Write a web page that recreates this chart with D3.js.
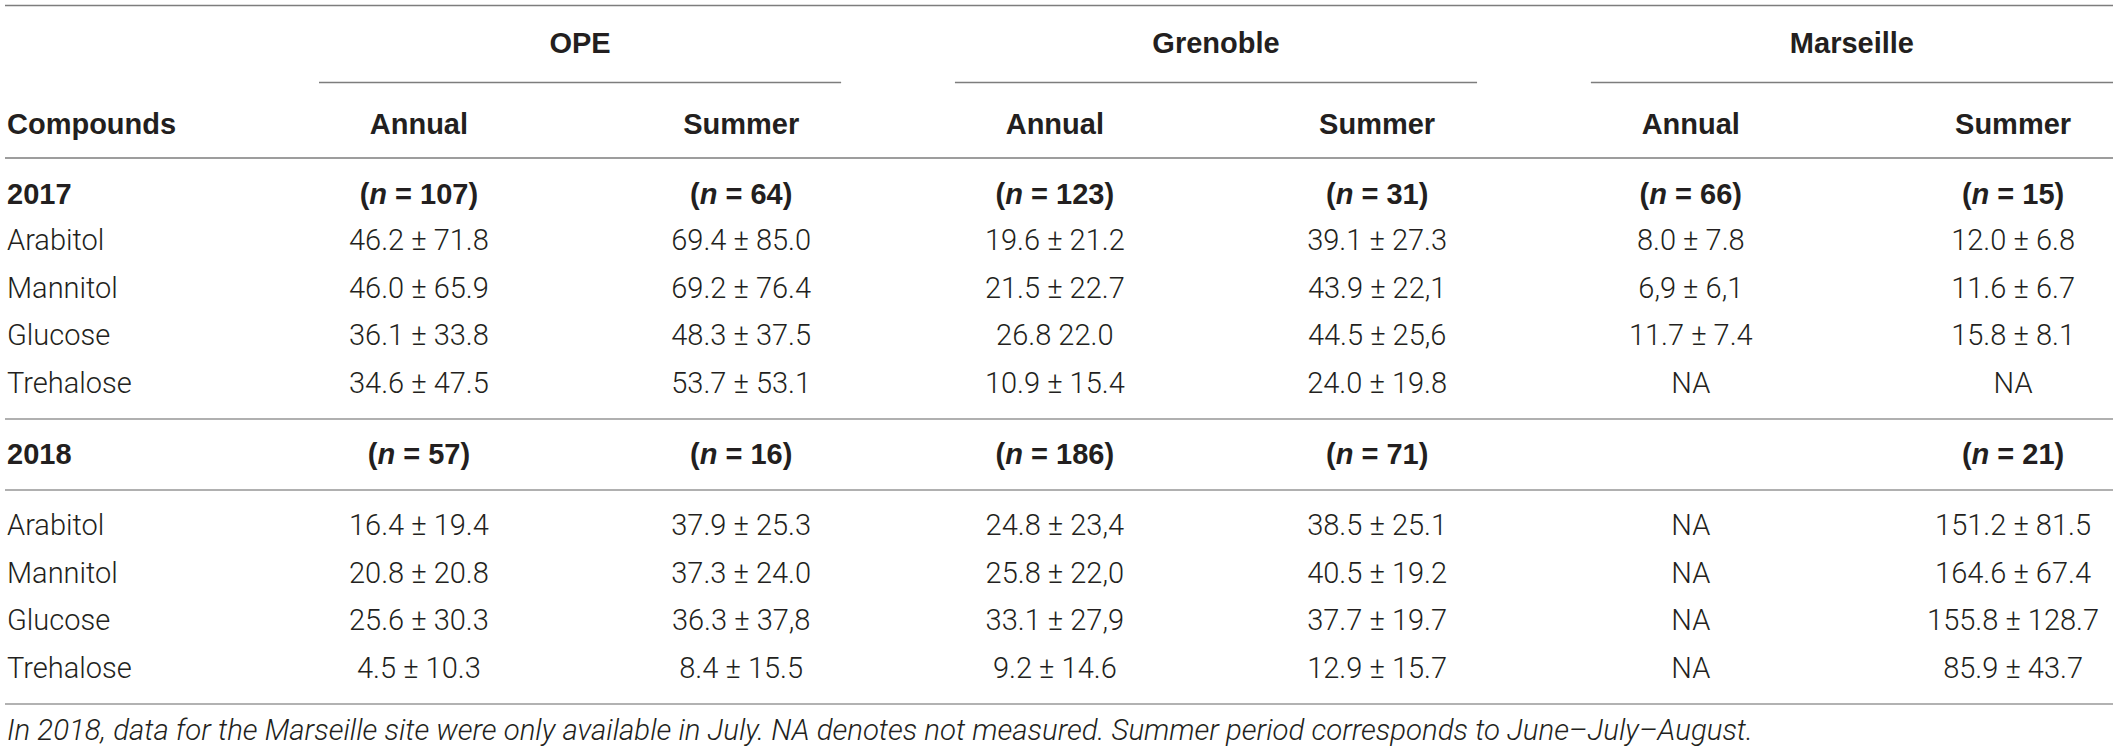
<!DOCTYPE html>
<html>
<head>
    <meta charset="utf-8">
    <style>
        body { margin: 0; background: #fff; }
        svg text { fill: #231f20; }
        .bold { font-family: "Liberation Sans", Arial, sans-serif; font-weight: bold; font-size: 29px; }
        .light { font-family: Roboto, "Liberation Sans", sans-serif; font-weight: 300; font-size: 29px; }
        .note { font-family: Roboto, "Liberation Sans", sans-serif; font-weight: 300; font-style: italic; font-size: 29.4px; }
    </style>
    <script src="https://cdnjs.cloudflare.com/ajax/libs/d3/7.8.5/d3.min.js"></script>
    <title>Table</title>
</head>
<body>
    <script>
        const width = 2118;
        const height = 752;

        const sites = ["OPE", "Grenoble", "Marseille"];
        const periods = ["Annual", "Summer"];
        const years = ["2017", "2018"];
        const compounds = ["Arabitol", "Mannitol", "Glucose", "Trehalose"];

        // sample counts per column (OPE annual, OPE summer, Grenoble ..., Marseille ...)
        const n2017 = [107, 64, 123, 31, 66, 15];
        const n2018 = [57, 16, 186, 71, null, 21];

        const values2017 = [
            ["46.2 ± 71.8", "69.4 ± 85.0", "19.6 ± 21.2", "39.1 ± 27.3", "8.0 ± 7.8", "12.0 ± 6.8"],
            ["46.0 ± 65.9", "69.2 ± 76.4", "21.5 ± 22.7", "43.9 ± 22,1", "6,9 ± 6,1", "11.6 ± 6.7"],
            ["36.1 ± 33.8", "48.3 ± 37.5", "26.8 22.0", "44.5 ± 25,6", "11.7 ± 7.4", "15.8 ± 8.1"],
            ["34.6 ± 47.5", "53.7 ± 53.1", "10.9 ± 15.4", "24.0 ± 19.8", "NA", "NA"]
        ];
        const values2018 = [
            ["16.4 ± 19.4", "37.9 ± 25.3", "24.8 ± 23,4", "38.5 ± 25.1", "NA", "151.2 ± 81.5"],
            ["20.8 ± 20.8", "37.3 ± 24.0", "25.8 ± 22,0", "40.5 ± 19.2", "NA", "164.6 ± 67.4"],
            ["25.6 ± 30.3", "36.3 ± 37,8", "33.1 ± 27,9", "37.7 ± 19.7", "NA", "155.8 ± 128.7"],
            ["4.5 ± 10.3", "8.4 ± 15.5", "9.2 ± 14.6", "12.9 ± 15.7", "NA", "85.9 ± 43.7"]
        ];

        const footnote = "In 2018, data for the Marseille site were only available in July. NA denotes not measured. Summer period corresponds to June–July–August.";

        const svg = d3.select("body").append("svg")
            .attr("width", width).attr("height", height);

        // column layout
        const left = 5, right = 2113, textLeft = 7;
        const xSite = d3.scaleBand().domain(sites).range([319, right]).paddingInner(0.179);
        const xPeriod = d3.scalePoint().domain(periods).range([0, xSite.bandwidth()]).padding(0.31);
        const colX = i => xSite(sites[Math.floor(i / 2)]) + xPeriod(periods[i % 2]);

        // row layout: centres of each text row
        const rowStep = 47.6;
        const yGroup = 43, yHead = 124;
        const yYear = { "2017": 194, "2018": 454 };
        const yFirst = { "2017": 240, "2018": 525 };
        const baseline = 10; // from cap centre to baseline

        function hline(y, x1, x2, color, w) {
            svg.append("line")
                .attr("x1", x1).attr("x2", x2)
                .attr("y1", y).attr("y2", y)
                .style("stroke", color)
                .style("stroke-width", w);
        }

        // rules
        hline(5.5, left, right, "#7d7d7d", 1.6);
        sites.forEach(s => hline(82.5, xSite(s), xSite(s) + xSite.bandwidth(), "#7d7d7d", 1.6));
        hline(158, left, right, "#7d7d7d", 1.6);
        hline(419, left, right, "#b0b0b0", 2.2);
        hline(490, left, right, "#b0b0b0", 2.2);
        hline(704, left, right, "#999", 1.6);

        // header: site names
        svg.selectAll("text.site")
            .data(sites)
            .enter().append("text")
            .attr("class", "site bold")
            .attr("x", d => xSite(d) + xSite.bandwidth() / 2)
            .attr("y", yGroup + baseline)
            .attr("text-anchor", "middle")
            .text(d => d);

        // header: periods
        svg.append("text").attr("class", "bold")
            .attr("x", textLeft).attr("y", yHead + baseline)
            .text("Compounds");

        const headCols = d3.range(6);
        svg.selectAll("text.period")
            .data(headCols)
            .enter().append("text")
            .attr("class", "period bold")
            .attr("x", colX)
            .attr("y", yHead + baseline)
            .attr("text-anchor", "middle")
            .text(i => periods[i % 2]);

        // body per year
        const blocks = [
            { year: "2017", n: n2017, values: values2017 },
            { year: "2018", n: n2018, values: values2018 }
        ];

        blocks.forEach(b => {
            const yy = yYear[b.year] + baseline;
            svg.append("text").attr("class", "bold")
                .attr("x", textLeft).attr("y", yy)
                .text(b.year);

            b.n.forEach((n, i) => {
                if (n == null) return;
                const t = svg.append("text").attr("class", "bold")
                    .attr("x", colX(i)).attr("y", yy)
                    .attr("text-anchor", "middle");
                t.append("tspan").text("(");
                t.append("tspan").style("font-style", "italic").text("n");
                t.append("tspan").text(" = " + n + ")");
            });

            const y = d3.scaleLinear().domain([0, 1]).range([yFirst[b.year], yFirst[b.year] + rowStep]);

            compounds.forEach((c, r) => {
                svg.append("text").attr("class", "light")
                    .attr("x", textLeft).attr("y", y(r) + baseline)
                    .text(c);
                svg.selectAll(null)
                    .data(b.values[r])
                    .enter().append("text")
                    .attr("class", "light")
                    .attr("x", (d, i) => colX(i))
                    .attr("y", y(r) + baseline)
                    .attr("text-anchor", "middle")
                    .text(d => d);
            });
        });

        svg.append("text").attr("class", "note")
            .attr("x", textLeft).attr("y", 731 + 9)
            .text(footnote);
    </script>
</body>
</html>
